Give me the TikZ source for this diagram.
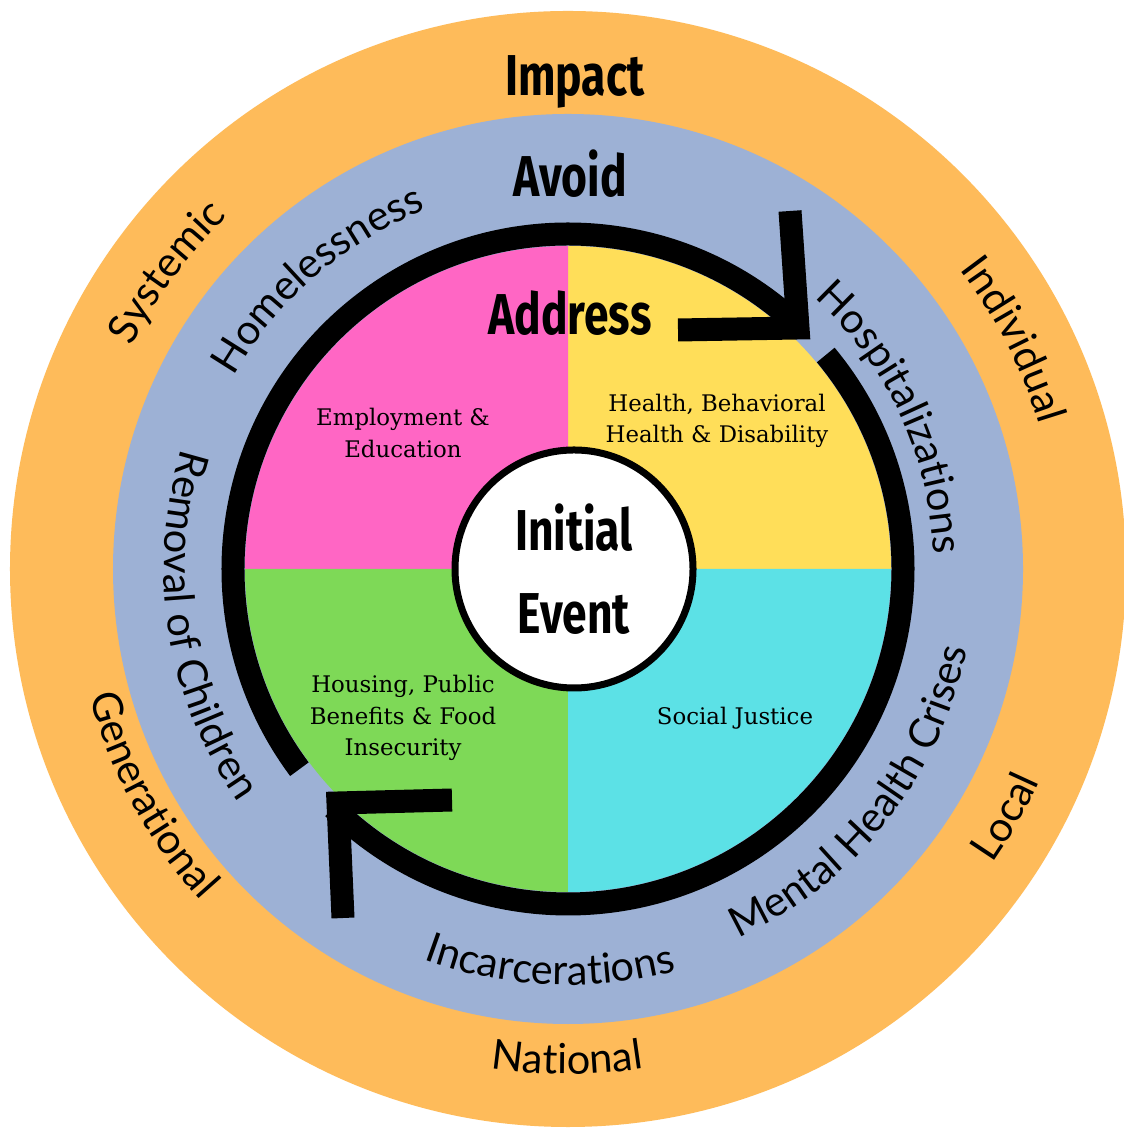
\documentclass[tikz,border=0pt]{standalone}
\usepackage{fontspec}
\usetikzlibrary{decorations.text}
\setmainfont{DejaVu Serif}
\newfontfamily\headfont{Fira Sans}[FakeStretch=0.77]
\newfontfamily\ringfont{Lato}
\definecolor{impactorange}{HTML}{FEBB5A}
\definecolor{avoidblue}{HTML}{9DB1D5}
\definecolor{workpink}{HTML}{FF66C4}
\definecolor{healthyellow}{HTML}{FFDE59}
\definecolor{justicecyan}{HTML}{5CE1E6}
\definecolor{housegreen}{HTML}{7ED957}
\tikzset{
    heading/.style={font=\headfont\bfseries\fontsize{16.4}{23.5}\selectfont, inner sep=0pt, align=center},
    areatext/.style={font=\fontsize{6.5}{9}\selectfont, inner sep=0pt, align=center},
    eventdisc/.style={heading, circle, draw=black, line width=0.07cm, fill=white, minimum size=2.38cm},
    loopline/.style={line width=0.23cm},
    ringlabel/.style={postaction={decorate}, decoration={text along path, text align=center,
        text={|\ringfont\fontsize{11.8}{14}\selectfont|#1}}}
}
\begin{document}
\begin{tikzpicture}
\useasboundingbox (-5.68,-5.61) rectangle (5.55,5.69);
\fill[white] (-5.68,-5.61) rectangle (5.55,5.69);
% rings
\fill[impactorange] (0,0) circle (5.58);
\fill[avoidblue] (0,0) circle (4.55);
\foreach \a/\c in {0/healthyellow,90/workpink,180/housegreen,270/justicecyan}
{
    \fill[\c] (0,0)--(\a:3.23) arc[start angle=\a, end angle=\a+90, radius=3.23]--cycle;
}

% the cycle with its two arrows
\draw[loopline] (216.7:3.35) arc[start angle=216.7, end angle=46, radius=3.35];
\draw[loopline] (39.7:3.35) arc[start angle=39.7, end angle=-134.5, radius=3.35];
\coordinate (tipA) at (2.30,2.41);
\coordinate (armA1) at (1.10,2.39);
\coordinate (armA2) at (2.22,3.58);
\coordinate (tipB) at (-2.30,-2.34);
\coordinate (armB1) at (-1.16,-2.31);
\coordinate (armB2) at (-2.25,-3.49);
\draw[loopline] (armA1)--(tipA)--(armA2);
\draw[loopline] (armB1)--(tipB)--(armB2);

\node[eventdisc] (event) at (0.06,0) {Initial\\Event};
\node[heading] (impact) at (0.07,4.87) {Impact};
\node[heading] (avoid) at (0.02,3.95) {Avoid};
\node[heading] (address) at (0.02,2.56) {Address};

\node[areatext] (work) at (-1.65,1.36) {Employment \&\\Education};
\node[areatext] (health) at (1.49,1.48) {Health, Behavioral\\Health \& Disability};
\node[areatext] (housing) at (-1.65,-1.49) {Housing, Public\\Benefits \& Food\\Insecurity};
\node[areatext] (justice) at (1.67,-1.49) {Social Justice};

% words on the rings
\path[ringlabel=Systemic] (223.5:4.90) arc[start angle=223.5, end angle=63.5, radius=4.90];
\path[ringlabel=Individual] (107.2:4.93) arc[start angle=107.2, end angle=-52.8, radius=4.93];
\path[ringlabel=Local] (-109.5:5.17) arc[start angle=-109.5, end angle=50.5, radius=5.17];
\path[ringlabel=National] (-170.1:5.05) arc[start angle=-170.1, end angle=-10.1, radius=5.05];
\path[ringlabel=Generational] (128.5:4.95) arc[start angle=128.5, end angle=288.5, radius=4.95];
\path[ringlabel=Homelessness] (210.8:3.86) arc[start angle=210.8, end angle=50.8, radius=3.86];
\path[ringlabel=Hospitalizations] (105:3.66) arc[start angle=105, end angle=-55, radius=3.66];
\path[ringlabel=Mental Health Crises] (-118.3:4.07) arc[start angle=-118.3, end angle=41.7, radius=4.07];
\path[ringlabel=Incarcerations] (-172.6:4.16) arc[start angle=-172.6, end angle=-12.6, radius=4.16];
\path[ringlabel=Removal of Children] (109:4.04) arc[start angle=109, end angle=269, radius=4.04];
\end{tikzpicture}
\end{document}
